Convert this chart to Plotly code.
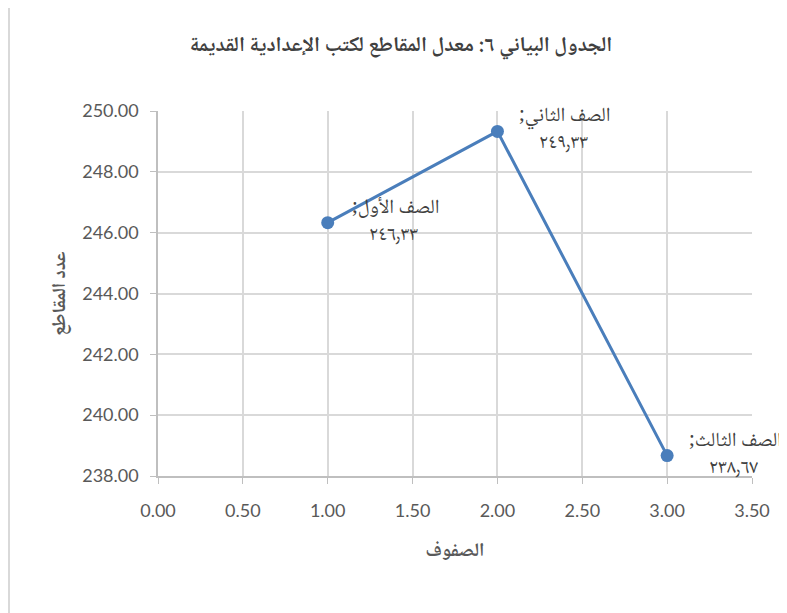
import plotly.graph_objects as go

# Data
x_vals = [1.0, 2.0, 3.0]
y_vals = [246.33, 249.33, 238.67]
point_names = ["الصف الأول", "الصف الثاني", "الصف الثالث"]
point_labels = ["٢٤٦٫٣٣", "٢٤٩٫٣٣", "٢٣٨٫٦٧"]

title_text = "الجدول البياني ٦: معدل المقاطع لكتب الإعدادية القديمة"
x_title = "الصفوف"
y_title = "عدد المقاطع"

W, H = 787, 613
L, R, T, B = 150, 43, 103, 145
pw, ph = W - L - R, H - T - B

blue = "#4a7ebb"
grid = "#d9d9d9"
tickc = "#595959"
tickfont = dict(family="Lato, Open Sans, sans-serif", size=18, color=tickc)
arfont = "Noto Naskh Arabic, Amiri, Noto Serif Arabic, Liberation Serif, DejaVu Sans, serif"

fig = go.Figure()
fig.add_trace(go.Scatter(
    x=x_vals, y=y_vals, mode="lines+markers",
    line=dict(color=blue, width=3),
    marker=dict(color=blue, size=13),
    hoverinfo="skip", showlegend=False,
))

for xv, yv, nm, lb in zip(x_vals, y_vals, point_names, point_labels):
    fig.add_annotation(
        x=xv, y=yv, xref="x", yref="y",
        text=nm + ";\u200f",
        showarrow=False, xanchor="center", yanchor="middle",
        xshift=68, yshift=14, align="center",
        font=dict(family=arfont, size=20, color="#404040"),
    )
    fig.add_annotation(
        x=xv, y=yv, xref="x", yref="y",
        text=lb,
        showarrow=False, xanchor="center", yanchor="middle",
        xshift=66, yshift=-13, align="center",
        font=dict(family=arfont, size=20, color="#404040"),
    )

# chart border (left edge visible)
fig.add_shape(type="line", xref="paper", yref="paper",
              x0=(1 - L) / pw, x1=(1 - L) / pw,
              y0=-(B + 10) / ph, y1=(H - B + 10) / ph,
              line=dict(color="#d9d9d9", width=2), layer="below")

fig.update_layout(
    width=W, height=H,
    margin=dict(l=L, r=R, t=T, b=B),
    paper_bgcolor="white", plot_bgcolor="white",
    title=dict(text="<b>" + title_text + "</b>", x=393 / W, xanchor="center",
               y=1 - 36 / H, yanchor="middle",
               font=dict(family=arfont, size=21, color="#404040")),
    xaxis=dict(range=[0, 3.5], dtick=0.5, tick0=0, tickformat=".2f",
               showgrid=True, gridcolor=grid, gridwidth=1.5,
               showline=True, linecolor="#bfbfbf", linewidth=1.5,
               ticks="outside", ticklen=6, tickcolor="#bfbfbf",
               ticklabelstandoff=12,
               tickfont=tickfont, zeroline=False,
               title=dict(text="<b>" + x_title + "</b>", standoff=22,
                          font=dict(family=arfont, size=19, color=tickc))),
    yaxis=dict(range=[238, 250], dtick=2, tick0=238, tickformat=".2f",
               showgrid=True, gridcolor=grid, gridwidth=1.5,
               showline=True, linecolor="#bfbfbf", linewidth=1.5,
               ticks="outside", ticklen=6, tickcolor="#bfbfbf",
               ticklabelstandoff=8,
               tickfont=tickfont, zeroline=False,
               title=dict(text="<b>" + y_title + "</b>", standoff=12,
                          font=dict(family=arfont, size=19, color=tickc))),
)

fig.write_html("out.html")
